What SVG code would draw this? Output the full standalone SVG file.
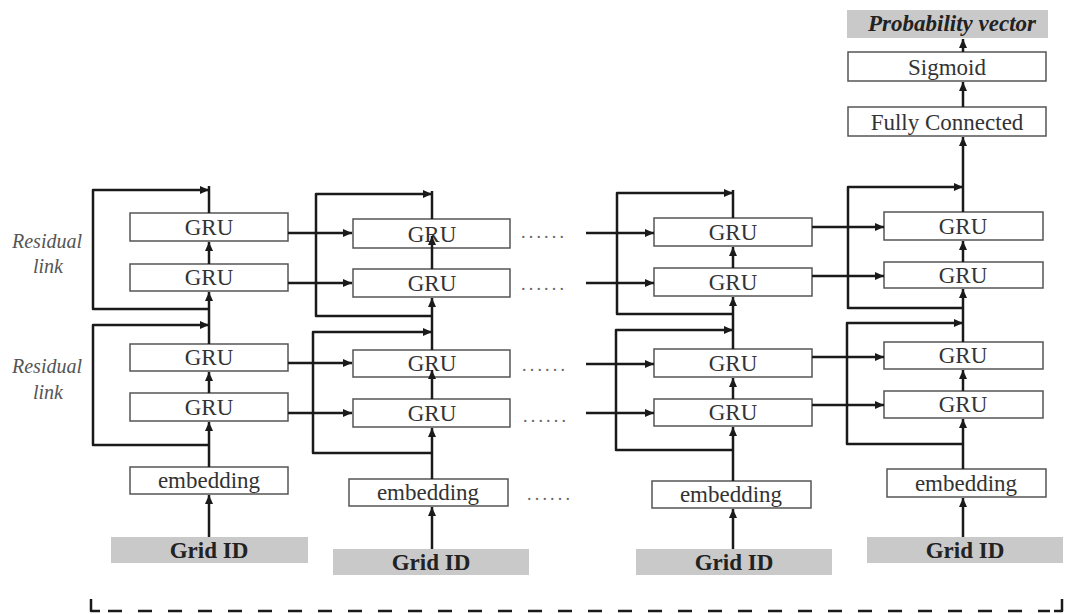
<svg xmlns="http://www.w3.org/2000/svg" width="1074" height="614" viewBox="0 0 1074 614">
<defs>
<marker id="ah" markerUnits="userSpaceOnUse" markerWidth="10" markerHeight="8" refX="9" refY="4" orient="auto">
<path d="M0,0 L9,4 L0,8 z" fill="#1a1a1a"/>
</marker>
<style>
.box{fill:#fff;stroke:#555;stroke-width:1.5}
.gray{fill:#c9c9c9;stroke:none}
.t{font-family:"Liberation Serif","Times New Roman",serif;font-size:23px;fill:#333;text-anchor:middle}
.tb{font-family:"Liberation Serif","Times New Roman",serif;font-size:23px;font-weight:bold;fill:#222;text-anchor:middle}
.ti{font-family:"Liberation Serif","Times New Roman",serif;font-size:20px;font-style:italic;fill:#555;text-anchor:middle}
.dots{font-family:"Liberation Serif","Times New Roman",serif;font-size:18px;fill:#666;letter-spacing:3.2px}
.c{fill:none;stroke:#1a1a1a;stroke-width:2.5;stroke-linejoin:round}
.a{marker-end:url(#ah)}
</style>
</defs>

<!-- Column 1 -->
<g id="c1-grid"><rect class="gray" x="111" y="537" width="197" height="26"/><text class="tb" x="209" y="558">Grid ID</text></g>
<g id="c1-emb"><rect class="box" x="130" y="467" width="158" height="27"/><text class="t" x="209" y="488">embedding</text></g>
<g id="c1-gru4"><rect class="box" x="130" y="393" width="158" height="28"/><text class="t" x="209" y="415">GRU</text></g>
<g id="c1-gru3"><rect class="box" x="130" y="344" width="158" height="27"/><text class="t" x="209" y="365">GRU</text></g>
<g id="c1-gru2"><rect class="box" x="130" y="264" width="158" height="27"/><text class="t" x="209" y="285">GRU</text></g>
<g id="c1-gru1"><rect class="box" x="130" y="213" width="158" height="28"/><text class="t" x="209" y="235">GRU</text></g>

<!-- Column 2 -->
<g id="c2-grid"><rect class="gray" x="333" y="549" width="196" height="26"/><text class="tb" x="431" y="570">Grid ID</text></g>
<g id="c2-emb"><rect class="box" x="349" y="479" width="159" height="27"/><text class="t" x="428" y="500">embedding</text></g>
<g id="c2-gru4"><rect class="box" x="353" y="399" width="157" height="28"/><text class="t" x="432" y="421">GRU</text></g>
<g id="c2-gru3"><rect class="box" x="353" y="350" width="157" height="27"/><text class="t" x="432" y="371">GRU</text></g>
<g id="c2-gru2"><rect class="box" x="353" y="269" width="157" height="28"/><text class="t" x="432" y="291">GRU</text></g>
<g id="c2-gru1"><rect class="box" x="353" y="219" width="157" height="29"/><text class="t" x="432" y="242">GRU</text></g>

<!-- Column 3 -->
<g id="c3-grid"><rect class="gray" x="636" y="549" width="196" height="26"/><text class="tb" x="734" y="570">Grid ID</text></g>
<g id="c3-emb"><rect class="box" x="652" y="481" width="159" height="27"/><text class="t" x="731" y="502">embedding</text></g>
<g id="c3-gru4"><rect class="box" x="654" y="399" width="158" height="27"/><text class="t" x="733" y="420">GRU</text></g>
<g id="c3-gru3"><rect class="box" x="654" y="349" width="158" height="28"/><text class="t" x="733" y="371">GRU</text></g>
<g id="c3-gru2"><rect class="box" x="654" y="268" width="158" height="28"/><text class="t" x="733" y="290">GRU</text></g>
<g id="c3-gru1"><rect class="box" x="654" y="218" width="158" height="28"/><text class="t" x="733" y="240">GRU</text></g>

<!-- Column 4 -->
<g id="c4-grid"><rect class="gray" x="867" y="537" width="196" height="26"/><text class="tb" x="965" y="558">Grid ID</text></g>
<g id="c4-emb"><rect class="box" x="887" y="469" width="159" height="28"/><text class="t" x="966" y="491">embedding</text></g>
<g id="c4-gru4"><rect class="box" x="884" y="391" width="159" height="27"/><text class="t" x="963" y="412">GRU</text></g>
<g id="c4-gru3"><rect class="box" x="884" y="342" width="159" height="27"/><text class="t" x="963" y="363">GRU</text></g>
<g id="c4-gru2"><rect class="box" x="884" y="262" width="159" height="26"/><text class="t" x="963" y="283">GRU</text></g>
<g id="c4-gru1"><rect class="box" x="884" y="212" width="159" height="28"/><text class="t" x="963" y="234">GRU</text></g>
<g id="fc"><rect class="box" x="848" y="107" width="198" height="29"/><text class="t" x="947" y="130">Fully Connected</text></g>
<g id="sigmoid"><rect class="box" x="848" y="52" width="198" height="29"/><text class="t" x="947" y="75">Sigmoid</text></g>
<g id="prob"><rect class="gray" x="847" y="10" width="201" height="28"/><text class="tb" x="952" y="31" font-style="italic">Probability vector</text></g>

<!-- Labels -->
<g id="labels">
<text class="ti" x="47" y="248">Residual</text>
<text class="ti" x="48" y="273">link</text>
<text class="ti" x="47" y="373">Residual</text>
<text class="ti" x="48" y="399">link</text>
<text class="dots" x="521" y="238">......</text>
<text class="dots" x="521" y="290">......</text>
<text class="dots" x="522" y="371">......</text>
<text class="dots" x="523" y="422">......</text>
<text class="dots" x="527" y="500">......</text>
</g>

<!-- Connectors -->
<g id="connectors">
<!-- column 1 vertical -->
<path class="c a" d="M209,537 V495"/>
<path class="c a" d="M209,467 V422"/>
<path class="c a" d="M209,393 V372"/>
<path class="c a" d="M209,344 V292"/>
<path class="c a" d="M209,264 V242"/>
<path class="c" d="M209,213 V186"/>
<path class="c a" d="M209,309 H93 V190 H209"/>
<path class="c a" d="M209,445 H93 V325 H209"/>
<!-- column 1 to column 2 -->
<path class="c a" d="M288,233 H352"/>
<path class="c a" d="M288,283 H352"/>
<path class="c a" d="M288,363 H352"/>
<path class="c a" d="M288,413 H352"/>

<!-- column 2 vertical -->
<path class="c a" d="M432,549 V507"/>
<path class="c a" d="M432,479 V428"/>
<path class="c a" d="M432,399 V370"/>
<path class="c a" d="M432,350 V298"/>
<path class="c a" d="M432,269 V236"/>
<path class="c" d="M432,219 V191"/>
<path class="c a" d="M432,316 H316 V194 H432"/>
<path class="c a" d="M432,453 H313 V332 H432"/>

<!-- into column 3 -->
<path class="c a" d="M586,233 H654"/>
<path class="c a" d="M586,283 H654"/>
<path class="c a" d="M586,364 H654"/>
<path class="c a" d="M586,413 H654"/>

<!-- column 3 vertical -->
<path class="c a" d="M733,549 V509"/>
<path class="c a" d="M733,481 V427"/>
<path class="c a" d="M733,399 V378"/>
<path class="c a" d="M733,349 V297"/>
<path class="c a" d="M733,268 V247"/>
<path class="c" d="M733,218 V190"/>
<path class="c a" d="M733,314 H617 V193 H733"/>
<path class="c a" d="M733,450 H616 V330 H733"/>

<!-- column 3 to column 4 -->
<path class="c a" d="M812,227 H884"/>
<path class="c a" d="M812,276 H884"/>
<path class="c a" d="M812,357 H884"/>
<path class="c a" d="M812,405 H884"/>

<!-- column 4 vertical -->
<path class="c a" d="M963,537 V498"/>
<path class="c a" d="M963,469 V419"/>
<path class="c a" d="M963,391 V370"/>
<path class="c a" d="M963,342 V289"/>
<path class="c a" d="M963,262 V241"/>
<path class="c a" d="M963,212 V137"/>
<path class="c a" d="M963,308 H848 V187 H963"/>
<path class="c a" d="M963,444 H847 V323 H963"/>
<path class="c a" d="M963,107 V82"/>
<path class="c a" d="M963,52 V39"/>

<!-- bottom bracket -->
<path class="c" d="M91,599 V611 H100"/>
<path class="c" d="M1054,611 H1062 V599"/>
<path d="M108,611 H1050" fill="none" stroke="#1a1a1a" stroke-width="2.5" stroke-dasharray="14 16"/>
</g>
</svg>
